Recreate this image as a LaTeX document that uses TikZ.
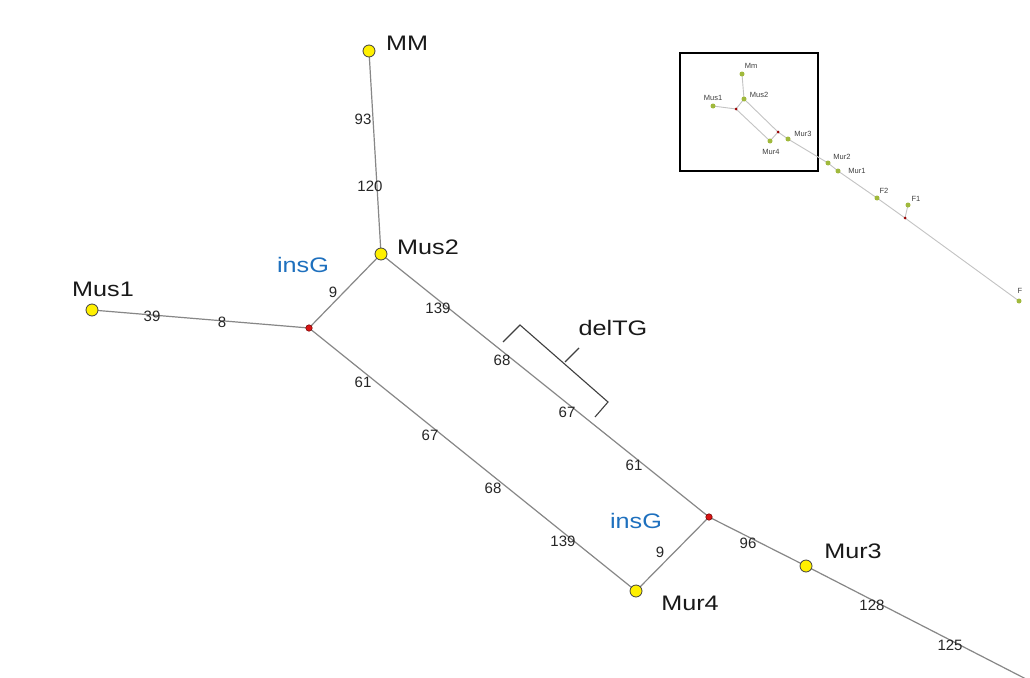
\documentclass[tikz,border=0pt]{standalone}
\usepackage{fontspec}
\usepackage{graphicx}
\setmainfont{Liberation Sans}
\newcommand\wide[1]{\scalebox{1.2}[1]{#1}}
\definecolor{linegray}{RGB}{135,135,135}
\definecolor{insblue}{RGB}{30,112,190}
\definecolor{hapyellow}{RGB}{255,240,0}
\definecolor{medred}{RGB}{215,20,20}
\definecolor{olive}{RGB}{160,185,60}
\definecolor{lightline}{RGB}{195,195,195}
\begin{document}
\begin{tikzpicture}[x=1pt,y=-1pt,
  link/.style={draw=linegray, line width=1.2pt},
  hap/.style={circle, draw=black!75, fill=hapyellow, minimum size=12pt, inner sep=0pt, line width=0.8pt},
  med/.style={circle, draw=red!45!black, fill=medred, minimum size=6.5pt, inner sep=0pt, line width=0.5pt},
  lab/.style={font=\fontsize{21}{24}\selectfont, text=black!90, inner sep=0pt},
  num/.style={font=\fontsize{15}{18}\selectfont, text=black!85, inner sep=0pt},
  mut/.style={font=\fontsize{21}{25}\selectfont, text=insblue, inner sep=0pt},
  bracket/.style={draw=black!75, line width=1.1pt},
  ilink/.style={draw=lightline, line width=0.9pt},
  ihap/.style={circle, fill=olive, minimum size=5pt, inner sep=0pt},
  imed/.style={circle, fill=red!60!black, minimum size=3pt, inner sep=0pt},
  ilab/.style={font=\fontsize{7.5}{9}\selectfont, text=black!75, inner sep=0pt}]
\useasboundingbox (0,0) rectangle (1030,677);
\fill[white] (0,0) rectangle (1030,677);

% ---- main network ----
\coordinate (MMp) at (369,51);
\coordinate (Mus2p) at (381,254);
\coordinate (Mus1p) at (92,310);
\coordinate (J1p) at (309,328);
\coordinate (J2p) at (709,517);
\coordinate (Mur4p) at (636,591);
\coordinate (Mur3p) at (806,566);
\coordinate (tail) at (1026,679);

\draw[link] (MMp) -- (Mus2p);
\draw[link] (Mus1p) -- (J1p);
\draw[link] (J1p) -- (Mus2p);
\draw[link] (Mus2p) -- (J2p);
\draw[link] (J1p) -- (Mur4p);
\draw[link] (Mur4p) -- (J2p);
\draw[link] (J2p) -- (Mur3p);
\draw[link] (Mur3p) -- (tail);

\node[hap] (MM) at (MMp) {};
\node[hap] (Mus2) at (Mus2p) {};
\node[hap] (Mus1) at (Mus1p) {};
\node[med] (J1) at (J1p) {};
\node[med] (J2) at (J2p) {};
\node[hap] (Mur4) at (Mur4p) {};
\node[hap] (Mur3) at (Mur3p) {};

\node[lab] (lMM) at (407,43) {\wide{MM}};
\node[lab] (lMus2) at (428,247) {\wide{Mus2}};
\node[lab] (lMus1) at (103,289) {\wide{Mus1}};
\node[lab] (lMur4) at (690,603) {\wide{Mur4}};
\node[lab] (lMur3) at (853,551) {\wide{Mur3}};

\node[num] (n93) at (363,119) {93};
\node[num] (n120) at (370,186) {120};
\node[num] (n39) at (152,316) {39};
\node[num] (n8) at (222,322) {8};
\node[num] (n9a) at (333,292) {9};
\node[num] (n139a) at (438,308) {139};
\node[num] (n68a) at (502,360) {68};
\node[num] (n67a) at (567,412) {67};
\node[num] (n61a) at (634,465) {61};
\node[num] (n61b) at (363,382) {61};
\node[num] (n67b) at (430,435) {67};
\node[num] (n68b) at (493,488) {68};
\node[num] (n139b) at (563,541) {139};
\node[num] (n9b) at (660,552) {9};
\node[num] (n96) at (748,543) {96};
\node[num] (n128) at (872,605) {128};
\node[num] (n125) at (950,645) {125};

\node[mut] (ins1) at (303,265) {\wide{insG}};
\node[mut] (ins2) at (636,521) {\wide{insG}};
\node[lab] (del) at (613,328) {\wide{delTG}};

\draw[bracket] (503,342) -- (520,325) -- (608,402) -- (595,417);
\draw[bracket] (565,362) -- (579,348);

% ---- inset ----
\node[draw=black, line width=1.3pt, minimum width=138pt, minimum height=118pt, inner sep=0pt] (box) at (749,112) {};

\coordinate (iMmp) at (742,74);
\coordinate (iMus2p) at (744,99);
\coordinate (iMus1p) at (713,106);
\coordinate (iJ1p) at (736,109);
\coordinate (iJ2p) at (778,132);
\coordinate (iMur4p) at (770,141);
\coordinate (iMur3p) at (788,139);
\coordinate (iMur2p) at (828,163);
\coordinate (iMur1p) at (838,171);
\coordinate (iF2p) at (877,198);
\coordinate (iF1p) at (908,205);
\coordinate (iJ3p) at (905,218);
\coordinate (iFp) at (1019,301);

\draw[ilink] (iMmp) -- (iMus2p);
\draw[ilink] (iMus1p) -- (iJ1p);
\draw[ilink] (iJ1p) -- (iMus2p);
\draw[ilink] (iMus2p) -- (iJ2p);
\draw[ilink] (iJ1p) -- (iMur4p);
\draw[ilink] (iMur4p) -- (iJ2p);
\draw[ilink] (iJ2p) -- (iMur3p) -- (iMur2p) -- (iMur1p) -- (iF2p) -- (iJ3p) -- (iFp);
\draw[ilink] (iJ3p) -- (iF1p);

\node[ihap] (iMm) at (iMmp) {};
\node[ihap] (iMus2) at (iMus2p) {};
\node[ihap] (iMus1) at (iMus1p) {};
\node[imed] (iJ1) at (iJ1p) {};
\node[imed] (iJ2) at (iJ2p) {};
\node[ihap] (iMur4) at (iMur4p) {};
\node[ihap] (iMur3) at (iMur3p) {};
\node[ihap] (iMur2) at (iMur2p) {};
\node[ihap] (iMur1) at (iMur1p) {};
\node[ihap] (iF2) at (iF2p) {};
\node[ihap] (iF1) at (iF1p) {};
\node[imed] (iJ3) at (iJ3p) {};
\node[ihap] (iF) at (iFp) {};

\node[ilab] (liMm) at (751,66) {Mm};
\node[ilab] (liMus2) at (759,95) {Mus2};
\node[ilab] (liMus1) at (713,98) {Mus1};
\node[ilab] (liMur4) at (771,152) {Mur4};
\node[ilab] (liMur3) at (803,134) {Mur3};
\node[ilab] (liMur2) at (842,157) {Mur2};
\node[ilab] (liMur1) at (857,171) {Mur1};
\node[ilab] (liF2) at (884,191) {F2};
\node[ilab] (liF1) at (916,199) {F1};
\node[ilab] (liF) at (1020,291) {F};
\end{tikzpicture}
\end{document}
